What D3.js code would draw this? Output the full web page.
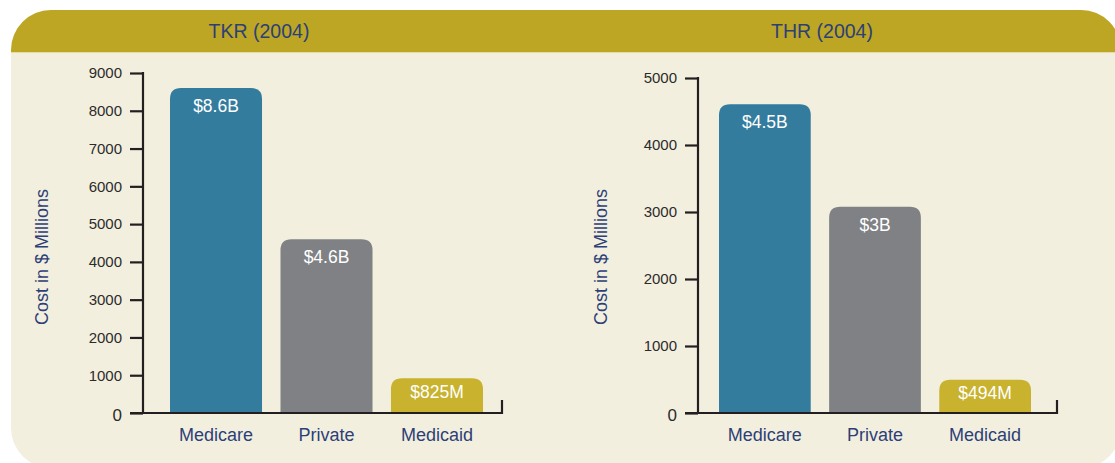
<!DOCTYPE html>
<html>
<head>
<meta charset="utf-8">
<script src="https://cdn.jsdelivr.net/npm/d3@7"></script>
<style>
  body { margin: 0; background: #fff; }
  svg { display: block; font-family: "Liberation Sans", Arial, sans-serif; }
</style>
</head>
<body>
<svg id="chart" width="1115" height="463"></svg>
<script>
// data
var categories = ["Medicare", "Private", "Medicaid"];
var tkrValues = [8600, 4600, 920];
var tkrLabels = ["$8.6B", "$4.6B", "$825M"];
var tkrTicks = [0, 1000, 2000, 3000, 4000, 5000, 6000, 7000, 8000, 9000];
var thrValues = [4610, 3080, 495];
var thrLabels = ["$4.5B", "$3B", "$494M"];
var thrTicks = [0, 1000, 2000, 3000, 4000, 5000];
var barColors = ["#337c9e", "#808185", "#c8b22e"];

var navy = "#2d3f77", ink = "#231f20";
var svg = d3.select("#chart");

// panel background with rounded corners
svg.append("clipPath").attr("id", "panelClip")
  .append("rect").attr("x", 11).attr("y", 10).attr("width", 1110).attr("height", 458).attr("rx", 40);
svg.append("rect").attr("x", 11).attr("y", 10).attr("width", 1110).attr("height", 458).attr("rx", 40)
  .attr("fill", "#f3efdf");
svg.append("rect").attr("x", 0).attr("y", 10).attr("width", 1115).attr("height", 42)
  .attr("fill", "#bca624").attr("clip-path", "url(#panelClip)");
svg.append("line").attr("x1", 11).attr("x2", 1115).attr("y1", 52.5).attr("y2", 52.5)
  .attr("stroke", "#e6dca0").attr("stroke-width", 1);

function topRounded(x, y, w, h, r) {
  r = Math.min(r, h / 3);
  return "M" + x + "," + (y + h) + "V" + (y + r) +
    "Q" + x + "," + y + " " + (x + r) + "," + y +
    "H" + (x + w - r) + "Q" + (x + w) + "," + y + " " + (x + w) + "," + (y + r) +
    "V" + (y + h) + "Z";
}

function drawChart(cfg) {
  var g = svg.append("g");
  var y = d3.scaleLinear().domain([0, cfg.max]).range([413, cfg.top]);
  var x = d3.scaleBand().domain(categories).range(cfg.barRange).paddingInner(0.167).paddingOuter(0);

  // title
  svg.append("text").attr("x", cfg.titleX).attr("y", 38).attr("text-anchor", "middle")
    .attr("fill", navy).style("font-size", "19.5px").text(cfg.title);

  // y axis
  var yAxis = d3.axisLeft(y).tickValues(cfg.ticks).tickFormat(d3.format("d"))
    .tickSize(13).tickPadding(8).tickSizeOuter(0);
  var ya = g.append("g").attr("transform", "translate(" + cfg.axisX + ",0)").call(yAxis);
  ya.select(".domain").remove();
  ya.selectAll(".tick line").attr("stroke", ink).attr("stroke-width", 2.2);
  ya.selectAll(".tick text").attr("fill", "#2b2b2b").style("font-size", "15px")
    .style("font-family", "'Liberation Sans', Arial, sans-serif")
    .filter(function(d) { return d === 0; }).style("font-size", "17px").attr("dy", "0.45em");
  g.append("line").attr("x1", cfg.axisX).attr("x2", cfg.axisX).attr("y1", cfg.top - 1).attr("y2", 414)
    .attr("stroke", ink).attr("stroke-width", 2.2);

  // bars
  g.selectAll(".bar").data(cfg.values).enter().append("path")
    .attr("class", "bar")
    .attr("fill", function(d, i) { return barColors[i]; })
    .attr("d", function(d, i) {
      return topRounded(x(categories[i]), y(d), x.bandwidth(), y(0) - y(d), 11);
    });

  g.selectAll(".blabel").data(cfg.values).enter().append("text")
    .attr("class", "blabel")
    .attr("x", function(d, i) { return x(categories[i]) + x.bandwidth() / 2; })
    .attr("y", function(d) { var h = y(0) - y(d); return y(d) + Math.min(24, h * 0.58); })
    .attr("text-anchor", "middle").attr("fill", "#fff").style("font-size", "17.5px")
    .text(function(d, i) { return cfg.labels[i]; });

  // x axis with small up-tick at the right end
  g.append("path")
    .attr("d", "M" + (cfg.axisX - 13) + "," + 413 + "H" + cfg.xEnd + "V" + 400)
    .attr("fill", "none").attr("stroke", ink).attr("stroke-width", 2.2);

  g.selectAll(".xlabel").data(categories).enter().append("text")
    .attr("class", "xlabel")
    .attr("x", function(d) { return x(d) + x.bandwidth() / 2; })
    .attr("y", 441).attr("text-anchor", "middle").attr("fill", navy)
    .style("font-size", "18px").text(function(d) { return d; });

  // y title
  g.append("text").attr("transform", "translate(" + cfg.yTitleX + ",257) rotate(-90)")
    .attr("text-anchor", "middle").attr("fill", navy).style("font-size", "18px")
    .text("Cost in $ Millions");
}

drawChart({ title: "TKR (2004)", titleX: 259, max: 9000, top: 73, ticks: tkrTicks,
  values: tkrValues, labels: tkrLabels, axisX: 143, barRange: [170, 483], xEnd: 502, yTitleX: 48 });
drawChart({ title: "THR (2004)", titleX: 822, max: 5000, top: 78, ticks: thrTicks,
  values: thrValues, labels: thrLabels, axisX: 698, barRange: [719, 1031], xEnd: 1057, yTitleX: 607 });
</script>
</body>
</html>
